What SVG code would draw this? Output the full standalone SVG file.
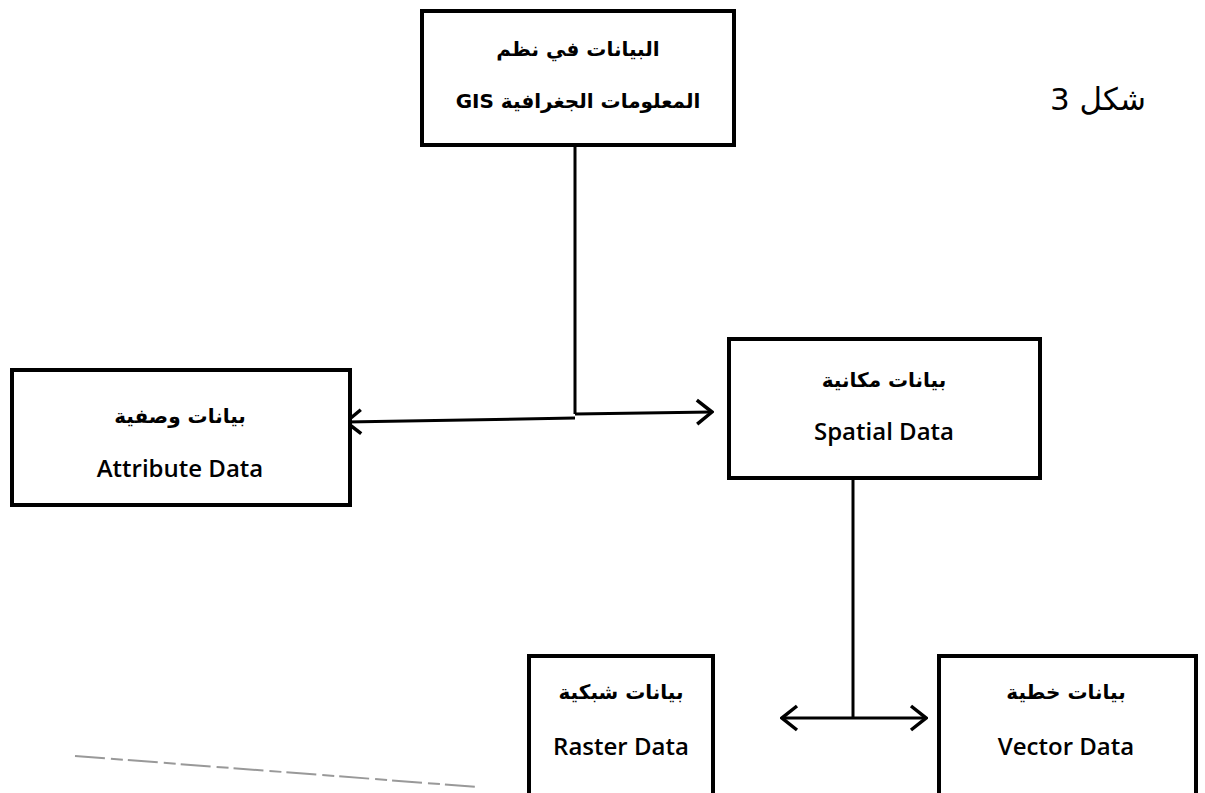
<svg xmlns="http://www.w3.org/2000/svg" width="1205" height="793" viewBox="0 0 1205 793">
<style>
.box{fill:#fff;stroke:#000;stroke-width:4}
.ar{font-family:"DejaVu Sans",sans-serif;font-weight:bold;font-size:20px;fill:#000;text-anchor:middle}
.en{font-family:"Open Sans","Noto Sans",sans-serif;font-weight:600;font-size:24px;fill:#000;text-anchor:middle}
.ln{stroke:#000;stroke-width:3;fill:none}
</style>
<defs>
<marker id="arr" viewBox="0 0 22 30" refX="20" refY="15" markerWidth="22" markerHeight="30" markerUnits="userSpaceOnUse" orient="auto-start-reverse">
<path d="M5,3 L20,15 L5,27" fill="none" stroke="#000" stroke-width="3.5"/>
</marker>
</defs>
<rect width="1205" height="793" fill="#fff"/>
<line x1="75" y1="756" x2="478" y2="787" stroke="#999" stroke-width="2" stroke-dasharray="30,6,12,5"/>
<text x="1098" y="110" font-family="DejaVu Sans,sans-serif" font-size="31" text-anchor="middle" direction="rtl">شكل 3</text>
<g id="connectors">
<line class="ln" x1="575" y1="146" x2="575" y2="414"/>
<line class="ln" x1="575" y1="414" x2="712" y2="412" marker-end="url(#arr)"/>
<line class="ln" x1="575" y1="418" x2="346" y2="422" marker-end="url(#arr)"/>
<line class="ln" x1="853" y1="478" x2="853" y2="718"/>
<line class="ln" x1="853" y1="718" x2="782" y2="718" marker-end="url(#arr)"/>
<line class="ln" x1="853" y1="718" x2="926" y2="718" marker-end="url(#arr)"/>
</g>
<g id="gis">
<rect class="box" x="422" y="11" width="312" height="134"/>
<text class="ar" x="578" y="56" direction="rtl">البيانات في نظم</text>
<text class="ar" x="578" y="108" direction="rtl">المعلومات الجغرافية GIS</text>
</g>
<g id="attribute">
<rect class="box" x="12" y="370" width="338" height="135"/>
<text class="ar" x="180" y="423" direction="rtl">بيانات وصفية</text>
<text class="en" x="180" y="477">Attribute Data</text>
</g>
<g id="spatial">
<rect class="box" x="729" y="339" width="311" height="139"/>
<text class="ar" x="884" y="387" direction="rtl">بيانات مكانية</text>
<text class="en" x="884" y="440">Spatial Data</text>
</g>
<g id="raster">
<rect class="box" x="529" y="656" width="184" height="145"/>
<text class="ar" x="621" y="699" direction="rtl">بيانات شبكية</text>
<text class="en" x="621" y="755">Raster Data</text>
</g>
<g id="vector">
<rect class="box" x="939" y="656" width="257" height="145"/>
<text class="ar" x="1066" y="699" direction="rtl">بيانات خطية</text>
<text class="en" x="1066" y="755">Vector Data</text>
</g>
</svg>
